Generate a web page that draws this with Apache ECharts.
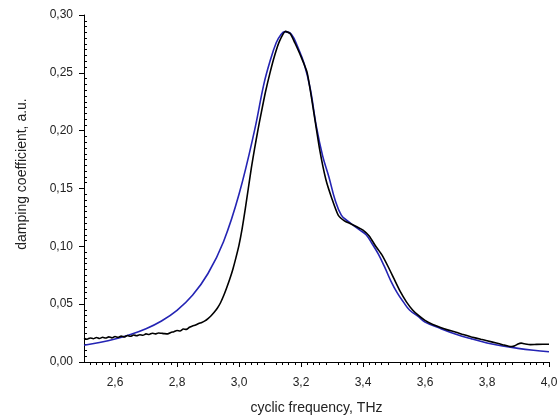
<!DOCTYPE html>
<html><head><meta charset="utf-8">
<script src="https://cdn.jsdelivr.net/npm/echarts@6/dist/echarts.min.js"></script>
<style>html,body{margin:0;padding:0;background:#fff}#c{width:558px;height:416px}</style>
</head><body><div id="c"></div>
<script>
// ---- data ----
const xMajorTicks = [2.6, 2.8, 3.0, 3.2, 3.4, 3.6, 3.8, 4.0];

const fitFreq = [2.50,2.55,2.60,2.65,2.70,2.75,2.80,2.85,2.90,2.95,3.00,3.05,3.08,3.10,3.12,3.135,3.148,
  3.17,3.19,3.21,3.23,3.25,3.27,3.29,3.31,3.33,3.35,3.37,3.39,3.41,3.43,3.45,3.47,3.49,3.51,3.53,3.55,
  3.58,3.60,3.65,3.70,3.75,3.80,3.85,3.90,3.95,4.00];
const fitVal = [0.0145,0.0169,0.0199,0.0238,0.0288,0.0355,0.0447,0.0577,0.0765,0.104,0.145,0.200,0.240,0.260,0.276,0.283,0.2856,
  0.2830,0.2720,0.2580,0.2360,0.2030,0.1780,0.1600,0.1400,0.1270,0.1220,0.1180,0.1140,0.1100,0.1020,0.0930,0.0820,0.0700,0.0600,0.0520,0.0450,
  0.0390,0.0345,0.0290,0.0240,0.0200,0.0165,0.0138,0.0118,0.0102,0.0089];

const measFreq = [2.50,2.51,2.52,2.53,2.54,2.55,2.56,2.57,2.58,2.59,2.60,2.61,2.62,2.63,2.64,2.65,2.66,2.67,2.68,2.69,
  2.70,2.71,2.72,2.73,2.74,2.75,2.76,2.77,2.78,2.79,2.80,2.81,2.82,2.83,2.84,2.85,2.86,2.87,2.88,2.89,
  2.90,2.91,2.92,2.93,2.94,2.95,2.96,2.97,2.98,2.99,3.00,3.01,3.02,3.03,3.04,3.05,3.06,3.07,3.085,3.10,3.115,3.13,3.15,3.165,3.18,
  3.20,3.22,3.24,3.26,3.28,3.30,3.32,3.34,3.36,3.38,3.40,3.42,3.44,3.46,3.48,3.50,3.52,3.54,3.56,3.58,3.60,3.62,
  3.65,3.67,3.70,3.72,3.75,3.78,3.80,3.83,3.85,3.87,3.88,3.89,3.90,3.91,3.92,3.94,3.96,3.98,4.00];
const measVal = [0.0205,0.0197,0.0208,0.0201,0.0212,0.0203,0.0214,0.0207,0.0217,0.0209,0.0220,0.0213,0.0224,0.0216,0.0229,0.0222,0.0233,0.0227,0.0236,0.0231,
  0.0243,0.0238,0.0249,0.0243,0.0251,0.0248,0.0245,0.0243,0.0255,0.0262,0.0272,0.0268,0.0285,0.0282,0.0300,0.0312,0.0320,0.0333,0.0342,0.0355,
  0.0375,0.0400,0.0430,0.0465,0.0510,0.0570,0.0640,0.0715,0.0800,0.0900,0.1010,0.1150,0.1320,0.1500,0.1680,0.1840,0.1990,0.2130,0.2330,0.2500,0.2650,0.2770,0.2858,0.2840,0.2760,
  0.2640,0.2500,0.2180,0.1840,0.1580,0.1410,0.1270,0.1220,0.1195,0.1170,0.1140,0.1090,0.1005,0.0930,0.0830,0.0720,0.0610,0.0520,0.0450,0.0400,0.0360,0.0330,
  0.0298,0.0280,0.0257,0.0240,0.0217,0.0196,0.0184,0.0164,0.0150,0.0136,0.0134,0.0141,0.0156,0.0163,0.0158,0.0150,0.0152,0.0153,0.0153];

const xName = 'cyclic frequency, THz';
const yName = 'damping coefficient, a.u.';

// ---- chart ----
const FONT = "'Liberation Sans', Arial, sans-serif";
const zip = (a, b) => a.map((v, i) => [v, b[i]]);
const chart = echarts.init(document.getElementById('c'), null, {renderer: 'canvas'});
chart.setOption({
  animation: false,
  backgroundColor: '#fff',
  grid: {left: 84, right: 9, top: 15, bottom: 54, outerBoundsMode: 'none', containLabel: false},
  xAxis: {
    type: 'value', min: 2.5, max: 4.0, interval: 0.1, position: 'bottom',
    name: xName, nameLocation: 'middle', nameGap: 39, nameMoveOverlap: false,
    nameTextStyle: {fontFamily: FONT, fontSize: 14, color: '#222'},
    axisLine: {show: true, onZero: false, lineStyle: {color: '#000', width: 1}},
    axisTick: {show: true, inside: false, length: 5, customValues: xMajorTicks, lineStyle: {color: '#000', width: 1}},
    minorTick: {show: true, splitNumber: 5, length: 3, lineStyle: {color: '#000', width: 1}},
    axisLabel: {customValues: xMajorTicks, margin: 15, fontFamily: FONT, fontSize: 12, color: '#222',
      formatter: v => v.toFixed(1).replace('.', ',')},
    splitLine: {show: false}
  },
  yAxis: {
    type: 'value', min: 0, max: 0.30, interval: 0.05, position: 'left',
    name: yName, nameLocation: 'middle', nameGap: 55, nameMoveOverlap: false,
    nameTextStyle: {fontFamily: FONT, fontSize: 14, color: '#222', padding: [0, 0, 0, 29]},
    axisLine: {show: true, onZero: false, lineStyle: {color: '#000', width: 1}},
    axisTick: {show: true, inside: false, length: 5, lineStyle: {color: '#000', width: 1}},
    minorTick: {show: true, splitNumber: 10, length: -3, lineStyle: {color: '#000', width: 1}},
    axisLabel: {margin: 11, fontFamily: FONT, fontSize: 12, color: '#222',
      formatter: v => v.toFixed(2).replace('.', ',')},
    splitLine: {show: false}
  },
  series: [{
    type: 'line', name: 'fit', data: zip(fitFreq, fitVal), showSymbol: false, smooth: 0.4,
    lineStyle: {color: '#2424b4', width: 1.6}, z: 2
  }, {
    type: 'line', name: 'measured', data: zip(measFreq, measVal), showSymbol: false, smooth: 0.2,
    lineStyle: {color: '#000000', width: 1.6}, z: 3
  }]
});
</script>
</body></html>
